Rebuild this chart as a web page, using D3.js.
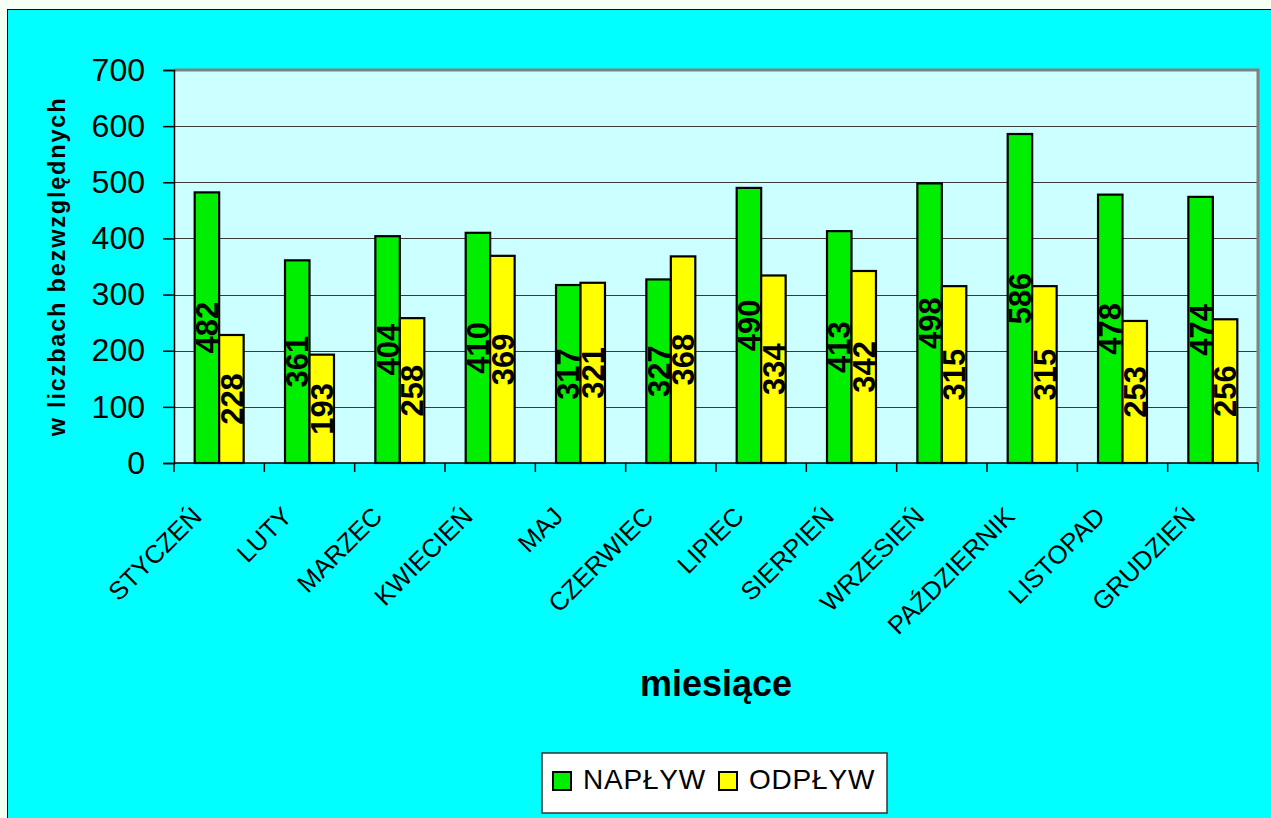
<!DOCTYPE html>
<html>
<head>
<meta charset="utf-8">
<script src="https://cdn.jsdelivr.net/npm/d3@7"></script>
<style>
  body { margin: 0; background: #f6fff4; }
  svg { display: block; font-family: "Liberation Sans", Arial, sans-serif; }
</style>
</head>
<body>
<div class="chart"></div>
<script>
const width = 1271,
  height = 818;

const months = [
  "STYCZEŃ", "LUTY", "MARZEC", "KWIECIEŃ", "MAJ", "CZERWIEC",
  "LIPIEC", "SIERPIEŃ", "WRZESIEŃ", "PAŹDZIERNIK", "LISTOPAD", "GRUDZIEŃ",
];
const naplyw = [482, 361, 404, 410, 317, 327, 490, 413, 498, 586, 478, 474];
const odplyw = [228, 193, 258, 369, 321, 368, 334, 342, 315, 315, 253, 256];
const seriesNames = ["NAPŁYW", "ODPŁYW"];
const seriesColors = ["#00ee00", "#ffff00"];
const yTicks = [0, 100, 200, 300, 400, 500, 600, 700];

const plot = { left: 174, right: 1258, top: 70, bottom: 463 };

const svg = d3
  .select(".chart")
  .append("svg")
  .attr("width", width)
  .attr("height", height);

// outer cyan panel
svg
  .append("rect")
  .attr("x", 7.5)
  .attr("y", 9.5)
  .attr("width", width)
  .attr("height", height)
  .attr("fill", "#00ffff")
  .attr("stroke", "#000")
  .attr("stroke-width", 1);

const x0 = d3.scaleBand().domain(months).range([plot.left, plot.right]);
const bw = x0.bandwidth();
const x1 = d3
  .scaleBand()
  .domain(seriesNames)
  .range([bw * 0.229, bw * 0.771]);

const y = d3.scaleLinear().domain([0, 700]).range([plot.bottom, plot.top]);

// plot background
svg
  .append("rect")
  .attr("x", plot.left)
  .attr("y", plot.top)
  .attr("width", plot.right - plot.left)
  .attr("height", plot.bottom - plot.top)
  .attr("fill", "#ccffff");

// grid lines
svg
  .append("g")
  .selectAll("line")
  .data(yTicks.slice(1, -1))
  .enter()
  .append("line")
  .attr("x1", plot.left)
  .attr("x2", plot.right)
  .attr("y1", (d) => Math.round(y(d)) + 0.5)
  .attr("y2", (d) => Math.round(y(d)) + 0.5)
  .attr("stroke", "#3a3a3a")
  .attr("stroke-width", 1);

// gray frame top/right
svg
  .append("path")
  .attr("d", `M${plot.left},${plot.top} H${plot.right} V${plot.bottom}`)
  .attr("fill", "none")
  .attr("stroke", "#808080")
  .attr("stroke-width", 3);

const rows = months.map((m, i) => ({ month: m, values: [naplyw[i], odplyw[i]] }));

const groups = svg
  .selectAll(".group")
  .data(rows)
  .enter()
  .append("g")
  .attr("class", "group")
  .attr("transform", (d) => "translate(" + x0(d.month) + ",0)");

const bars = groups
  .selectAll(".bar")
  .data((d) => d.values.map((v, i) => ({ name: seriesNames[i], value: v, i: i })))
  .enter();

bars
  .append("rect")
  .attr("class", "bar")
  .attr("x", (d) => x1(d.name))
  .attr("y", (d) => y(d.value))
  .attr("width", x1.bandwidth())
  .attr("height", (d) => y(0) - y(d.value))
  .attr("fill", (d) => seriesColors[d.i])
  .attr("stroke", "#000")
  .attr("stroke-width", 2.2);

bars
  .append("text")
  .attr(
    "transform",
    (d) =>
      "translate(" + (x1(d.name) + x1.bandwidth() / 2) + "," + (y(d.value) + y(0)) / 2 + ") rotate(-90)"
  )
  .attr("text-anchor", "middle")
  .attr("dy", "0.36em")
  .style("font-size", "31px")
  .style("font-weight", "bold")
  .text((d) => d.value);

// y axis
const yAxis = d3.axisLeft(y).tickValues(yTicks).tickSize(11).tickPadding(18);
svg
  .append("g")
  .attr("transform", "translate(" + plot.left + ",0)")
  .call(yAxis)
  .call((g) => g.select(".domain").attr("stroke", "#000").attr("stroke-width", 1.5))
  .call((g) => g.selectAll(".tick line").attr("stroke", "#000").attr("stroke-width", 1.5))
  .call((g) =>
    g
      .selectAll(".tick text")
      .style("font-size", "32px")
      .style("font-family", '"Liberation Sans", Arial, sans-serif')
      .attr("fill", "#000")
  );

// x axis (ticks between categories)
const xAxisG = svg.append("g");
xAxisG
  .append("line")
  .attr("x1", plot.left)
  .attr("x2", plot.right)
  .attr("y1", plot.bottom)
  .attr("y2", plot.bottom)
  .attr("stroke", "#000")
  .attr("stroke-width", 1.5);

xAxisG
  .selectAll(".xtick")
  .data(months.concat([null]))
  .enter()
  .append("line")
  .attr("x1", (d) => (d ? x0(d) : plot.right))
  .attr("x2", (d) => (d ? x0(d) : plot.right))
  .attr("y1", plot.bottom)
  .attr("y2", plot.bottom + 9)
  .attr("stroke", "#000")
  .attr("stroke-width", 1.5);

xAxisG
  .selectAll(".xlabel")
  .data(months)
  .enter()
  .append("text")
  .attr(
    "transform",
    (d) => "translate(" + (x0(d) + bw / 2 - 16) + "," + (plot.bottom + 55) + ") rotate(-45)"
  )
  .attr("text-anchor", "end")
  .style("font-size", "25.5px")
  .text((d) => d);

// axis titles
svg
  .append("text")
  .attr("transform", "translate(65," + (plot.top + plot.bottom) / 2 + ") rotate(-90)")
  .attr("text-anchor", "middle")
  .style("font-size", "23.5px")
  .style("font-weight", "bold")
  .style("letter-spacing", "1.8px")
  .text("w liczbach bezwzględnych");

svg
  .append("text")
  .attr("x", 716)
  .attr("y", 696)
  .attr("text-anchor", "middle")
  .style("font-size", "36px")
  .style("font-weight", "bold")
  .text("miesiące");

// legend
const legend = svg.append("g").attr("transform", "translate(542,753)");
legend
  .append("rect")
  .attr("width", 345)
  .attr("height", 60)
  .attr("fill", "#fff")
  .attr("stroke", "#333")
  .attr("stroke-width", 1.5);

const legendX = [11, 177];
const items = legend
  .selectAll(".legendEntries")
  .data(seriesNames)
  .enter()
  .append("g")
  .attr("class", "legendEntries")
  .attr("transform", (d, i) => "translate(" + legendX[i] + ",0)");

items
  .append("rect")
  .attr("x", 0)
  .attr("y", 19)
  .attr("width", 18)
  .attr("height", 18)
  .attr("fill", (d, i) => seriesColors[i])
  .attr("stroke", "#000")
  .attr("stroke-width", 2);

items
  .append("text")
  .attr("x", 30)
  .attr("y", 36)
  .style("font-size", "28px")
  .style("letter-spacing", "0.8px")
  .text((d) => d);
</script>
</body>
</html>
